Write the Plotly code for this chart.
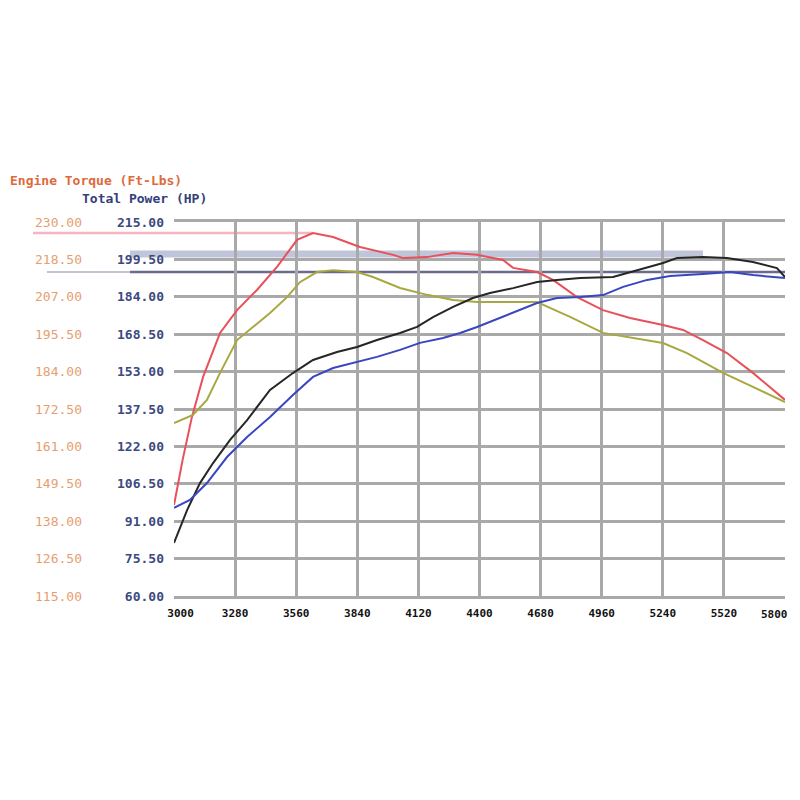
import plotly.graph_objects as go

# ---- data ----
rpm_red = [3000, 3040, 3082, 3133, 3211, 3289, 3380, 3472, 3564, 3637, 3729, 3852, 4004, 4050, 4160, 4279,
           4389, 4508, 4554, 4664, 4737, 4847, 4966, 5090, 5241, 5333, 5424, 5534, 5653, 5800]
torque_red = [143.0, 157.0, 170.0, 182.3, 195.9, 202.9, 209.1, 216.2, 224.5, 226.6, 225.4, 222.3, 219.9, 218.9,
              219.2, 220.5, 219.9, 218.3, 215.9, 214.6, 212.2, 206.9, 202.9, 200.5, 198.3, 196.8, 193.7, 189.7,
              183.6, 175.3]

rpm_green = [3000, 3087, 3151, 3211, 3289, 3335, 3440, 3518, 3577, 3655, 3729, 3839, 3912, 4036, 4160, 4279,
             4389, 4508, 4664, 4723, 4815, 4966, 5090, 5241, 5351, 5516, 5653, 5800]
torque_green = [168.2, 170.7, 175.3, 183.6, 193.7, 196.2, 202.0, 206.9, 211.5, 214.6, 215.2, 214.6, 213.1, 209.7,
                207.6, 206.0, 205.4, 205.4, 205.4, 203.6, 200.8, 195.9, 194.6, 192.8, 189.7, 183.6, 179.3, 174.6]

rpm_black = [3000, 3060, 3119, 3179, 3257, 3335, 3440, 3545, 3637, 3747, 3839, 3930, 4036, 4114, 4187, 4279,
             4370, 4448, 4554, 4664, 4755, 4861, 5012, 5122, 5241, 5305, 5424, 5534, 5653, 5763, 5800]
hp_black = [82.0, 95.6, 106.8, 115.1, 124.7, 132.9, 145.4, 152.4, 157.8, 161.1, 163.2, 166.1, 169.0, 171.5, 175.6,
            179.8, 183.5, 185.6, 187.6, 190.1, 191.0, 191.8, 192.2, 195.1, 198.0, 200.1, 200.5, 200.1, 198.4,
            195.9, 192.2]

rpm_blue = [3000, 3073, 3151, 3243, 3335, 3440, 3545, 3637, 3729, 3820, 3930, 4036, 4127, 4233, 4311, 4389,
            4448, 4554, 4664, 4755, 4861, 4966, 5058, 5168, 5273, 5424, 5548, 5653, 5800]
hp_blue = [96.5, 99.8, 106.8, 117.6, 125.9, 134.2, 143.3, 150.8, 154.5, 156.6, 159.1, 162.0, 164.9, 166.9, 169.0,
           171.5, 173.6, 177.3, 181.4, 183.5, 183.9, 184.7, 188.1, 191.0, 192.6, 193.4, 194.3, 193.0, 191.8]

rpm_ticks = [3000, 3280, 3560, 3840, 4120, 4400, 4680, 4960, 5240, 5520, 5800]
torque_ticks = [115.0, 126.5, 138.0, 149.5, 161.0, 172.5, 184.0, 195.5, 207.0, 218.5, 230.0]
hp_ticks = [60.0, 75.5, 91.0, 106.5, 122.0, 137.5, 153.0, 168.5, 184.0, 199.5, 215.0]

torque_title = "Engine Torque (Ft-Lbs)"
power_title = "Total Power (HP)"

# ---- layout geometry (figure pixels; page adds ~8px body margin) ----
W, H = 800, 800
ML, MR, MT, MB = 0, 23, 214, 212
PW = W - ML - MR
PH = H - MT - MB
X0 = 166 / PW  # start of x domain in paper coords
GRID = "#a9a9a9"
MONO = "DejaVu Sans Mono"
NB = "\u00a0"
XFONT = dict(family=MONO, size=11, color="#111111", weight="bold")


def rpm_to_paper(r):
    return X0 + (r - rpm_ticks[0]) / (rpm_ticks[-1] - rpm_ticks[0]) * (1 - X0)


# tick texts; end labels sit inside the frame like the reference
x_text = [str(v) for v in rpm_ticks]
x_text[0] = NB * 2 + x_text[0]
last_label = x_text[-1]
x_text[-1] = ""

fig = go.Figure()
fig.add_trace(go.Scatter(x=rpm_red, y=torque_red, mode="lines", yaxis="y",
                         line=dict(color="#e8505a", width=2), name="Torque A"))
fig.add_trace(go.Scatter(x=rpm_green, y=torque_green, mode="lines", yaxis="y",
                         line=dict(color="#a8a840", width=2), name="Torque B"))
fig.add_trace(go.Scatter(x=rpm_black, y=hp_black, mode="lines", yaxis="y2",
                         line=dict(color="#262626", width=2), name="Power A"))
fig.add_trace(go.Scatter(x=rpm_blue, y=hp_blue, mode="lines", yaxis="y2",
                         line=dict(color="#3a46c0", width=2), name="Power B"))

# peak marker lines
i_red = torque_red.index(max(torque_red))
i_black = hp_black.index(max(hp_black))
shapes = [
    dict(type="line", xref="paper", yref="y", x0=25 / PW, x1=rpm_to_paper(rpm_red[i_red]),
         y0=max(torque_red), y1=max(torque_red), line=dict(color="rgba(235,120,140,0.55)", width=2.5),
         layer="between"),
    dict(type="line", xref="paper", yref="y2", x0=122 / PW, x1=rpm_to_paper(rpm_black[i_black]),
         y0=max(hp_black) + 1.2, y1=max(hp_black) + 1.2, line=dict(color="rgba(140,150,185,0.55)", width=7),
         layer="between"),
    dict(type="line", xref="paper", yref="y2", x0=39 / PW, x1=122 / PW,
         y0=max(hp_blue), y1=max(hp_blue), line=dict(color="rgba(120,120,150,0.45)", width=2),
         layer="between"),
    dict(type="line", xref="paper", yref="y2", x0=122 / PW, x1=1.0,
         y0=max(hp_blue), y1=max(hp_blue), line=dict(color="rgba(70,70,115,0.8)", width=2.5),
         layer="between"),
]

fig.update_layout(
    width=W, height=H,
    margin=dict(l=ML, r=MR, t=MT, b=MB, autoexpand=False),
    paper_bgcolor="white", plot_bgcolor="white",
    showlegend=False,
    shapes=shapes,
    xaxis=dict(domain=[X0, 1.0], range=[rpm_ticks[0], rpm_ticks[-1]], tickvals=rpm_ticks,
               ticktext=x_text, showgrid=True, gridcolor=GRID, gridwidth=2.5,
               showline=True, linecolor=GRID, linewidth=2.5, mirror=True, zeroline=False,
               ticks="", ticklabelstandoff=5, automargin=False, tickfont=XFONT),
    yaxis=dict(anchor="free", position=74 / PW, side="left", range=[torque_ticks[0], torque_ticks[-1]],
               tickvals=torque_ticks, ticktext=["%.2f" % v for v in torque_ticks], automargin=False,
               showgrid=True, gridcolor=GRID, gridwidth=2.5, zeroline=False, showline=False, ticks="",
               tickfont=dict(family=MONO, size=13, color="#e6a070")),
    yaxis2=dict(anchor="x", overlaying="y", side="left", range=[hp_ticks[0], hp_ticks[-1]],
                tickvals=hp_ticks, ticktext=["%.2f" % v for v in hp_ticks], automargin=False,
                showgrid=False, zeroline=False, showline=False, ticks="", ticklabelstandoff=9,
                tickfont=dict(family=MONO, size=13, color="#3c4a80", weight="bold")),
    annotations=[
        dict(text=torque_title, xref="paper", yref="paper", x=0.0, y=(H - MB - 172) / PH,
             xanchor="left", yanchor="middle", showarrow=False,
             font=dict(family=MONO, size=13, color="#dd6a3a", weight="bold")),
        dict(text=power_title, xref="paper", yref="paper", x=72 / PW, y=(H - MB - 190) / PH,
             xanchor="left", yanchor="middle", showarrow=False,
             font=dict(family=MONO, size=13, color="#34407a", weight="bold")),
        dict(text=last_label, xref="x", yref="paper", x=rpm_ticks[-1], y=0, yanchor="top",
             xanchor="right", xshift=5, yshift=-10, showarrow=False, font=XFONT),
    ],
)

fig.write_html("out.html")
